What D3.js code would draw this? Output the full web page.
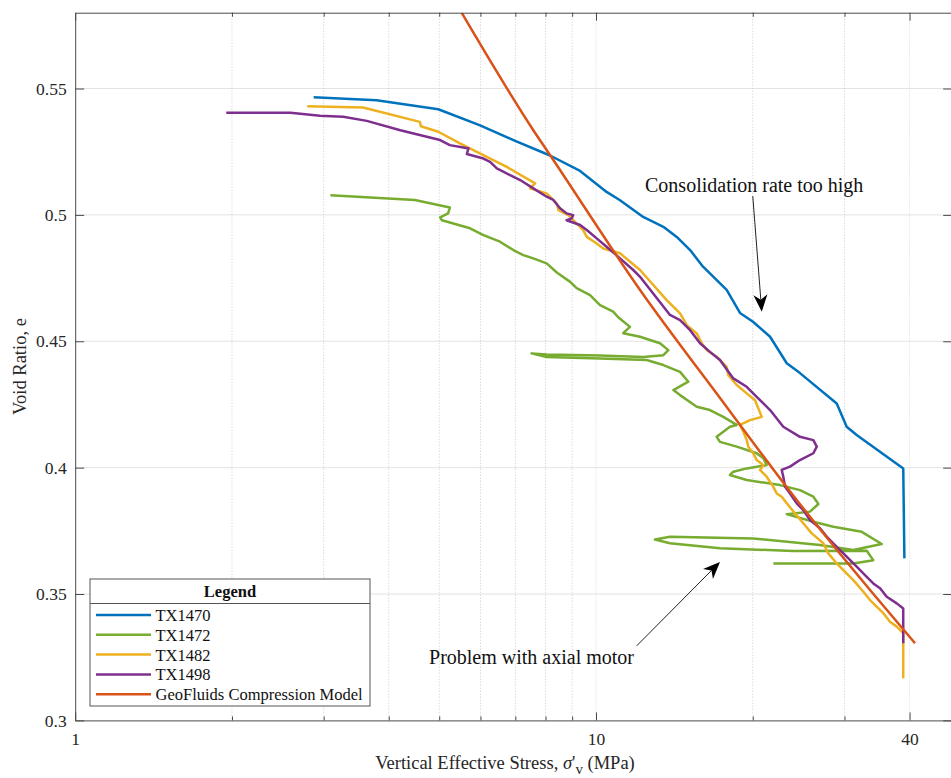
<!DOCTYPE html>
<html>
<head>
<meta charset="utf-8">
<script src="https://cdn.jsdelivr.net/npm/d3@7"></script>
<style>
  body { margin: 0; background: #fff; }
  svg { display: block; }
  text { font-family: "Liberation Serif", "Times New Roman", serif; }
</style>
</head>
<body>
<svg id="chart" width="951" height="778"></svg>
<script>
// Oedometer test data: [vertical effective stress (MPa), void ratio e]
const tx1470 = [
  [2.87,0.5465],[3.79,0.5454],[4.98,0.5418],[5.99,0.5354],[6.94,0.5296],[8.16,0.5235],
  [9.32,0.5174],[10.48,0.5091],[11.12,0.5058],[12.32,0.4992],[13.47,0.4953],[14.29,0.4913],
  [15.16,0.4861],[16.05,0.4795],[17.82,0.4703],[18.90,0.4612],[20.02,0.4577],[21.59,0.4518],
  [23.24,0.4413],[24.64,0.4374],[28.99,0.4254],[30.29,0.4162],[31.66,0.4129],[38.9,0.3997],
  [39.1,0.3641]
];

const tx1472 = [
  [3.09,0.5078],[4.49,0.5059],[5.24,0.5029],[5.20,0.5006],[5.02,0.4990],[5.06,0.4979],
  [5.73,0.4947],[6.08,0.4920],[6.54,0.4894],[6.94,0.4861],[7.25,0.4841],[7.58,0.4828],
  [8.04,0.4808],[8.41,0.4772],[8.92,0.4735],[9.18,0.4710],[9.74,0.4683],[10.18,0.4643],
  [10.79,0.4617],[11.02,0.4596],[11.62,0.4557],[11.28,0.4532],[12.15,0.4518],[13.27,0.4492],
  [13.77,0.4465],[13.47,0.4445],[12.32,0.4438],[10.18,0.4444],[8.04,0.4448],[7.52,0.4452],
  [8.04,0.4438],[10.18,0.4432],[12.51,0.4426],[13.47,0.4406],[14.50,0.4379],[15.04,0.4340],
  [14.08,0.4307],[14.50,0.4287],[15.61,0.4241],[16.55,0.4228],[17.56,0.4201],[18.63,0.4169],
  [18.08,0.4162],[17.05,0.4122],[17.30,0.4102],[18.63,0.4083],[20.35,0.4057],[20.96,0.4037],
  [21.27,0.4010],[19.47,0.3997],[18.35,0.3984],[18.08,0.3971],[19.47,0.3951],[22.56,0.3931],
  [24.64,0.3911],[26.14,0.3885],[26.73,0.3856],[25.76,0.3826],[23.24,0.3816],[26.14,0.3786],
  [28.56,0.3766],[32.38,0.3746],[35.37,0.3698],[31.20,0.3674],[26.92,0.3694],[20.04,0.3720],
  [13.87,0.3727],[12.98,0.3716],[13.87,0.3701],[17.30,0.3681],[23.92,0.3670],[33.10,0.3671],
  [34.07,0.3634],[31.20,0.3621],[21.90,0.3621]
];

const tx1482 = [
  [2.79,0.5430],[3.57,0.5425],[4.59,0.5368],[4.61,0.5351],[4.98,0.5329],[5.48,0.5283],
  [6.17,0.5230],[6.74,0.5190],[7.64,0.5125],[7.47,0.5105],[8.04,0.5085],[8.41,0.5045],
  [8.47,0.5019],[8.85,0.4999],[9.45,0.4940],[9.60,0.4913],[10.03,0.4887],[10.33,0.4867],
  [11.12,0.4848],[12.15,0.4782],[13.67,0.4663],[14.50,0.4610],[14.94,0.4564],[15.61,0.4531],
  [15.96,0.4492],[16.32,0.4465],[17.05,0.4439],[17.82,0.4399],[17.95,0.4366],[18.63,0.4327],
  [19.47,0.4294],[20.20,0.4267],[20.81,0.4201],[19.76,0.4188],[18.90,0.4169],[19.18,0.4142],
  [19.47,0.4109],[19.61,0.4083],[20.04,0.4057],[20.35,0.4030],[20.96,0.4010],[20.65,0.3991],
  [21.27,0.3964],[21.90,0.3924],[22.23,0.3898],[22.73,0.3885],[23.24,0.3859],[24.11,0.3819],
  [25.00,0.3780],[25.96,0.3740],[27.32,0.3701],[27.93,0.3661],[28.99,0.3621],[29.85,0.3595],
  [31.20,0.3555],[32.61,0.3509],[33.59,0.3476],[34.59,0.3450],[35.62,0.3424],[36.68,0.3390],
  [37.80,0.3371],[38.9,0.3345],[38.9,0.3167]
];

const tx1498 = [
  [1.95,0.5404],[2.59,0.5404],[2.95,0.5392],[3.27,0.5388],[3.63,0.5372],[4.21,0.5335],
  [5.02,0.5296],[5.24,0.5276],[5.56,0.5267],[5.69,0.5263],[5.65,0.5241],[6.08,0.5223],
  [6.26,0.5210],[6.45,0.5184],[6.84,0.5157],[7.15,0.5138],[7.58,0.5105],[8.04,0.5072],
  [8.28,0.5059],[8.53,0.5026],[8.78,0.5006],[9.04,0.4999],[8.98,0.4986],[8.78,0.4979],
  [9.32,0.4960],[9.60,0.4940],[10.03,0.4907],[10.48,0.4874],[11.12,0.4828],[11.79,0.4782],
  [12.15,0.4755],[13.17,0.4663],[13.87,0.4604],[14.50,0.4584],[15.16,0.4544],[15.84,0.4492],
  [16.55,0.4458],[17.30,0.4426],[18.35,0.4353],[19.47,0.4320],[20.35,0.4280],[21.59,0.4228],
  [22.89,0.4162],[24.64,0.4122],[26.14,0.4109],[26.54,0.4083],[26.14,0.4057],[24.64,0.4030],
  [23.58,0.4004],[22.73,0.3991],[22.89,0.3964],[23.07,0.3924],[23.58,0.3898],[24.29,0.3859],
  [25.00,0.3832],[25.76,0.3793],[26.92,0.3760],[27.73,0.3727],[28.99,0.3687],[30.29,0.3648],
  [31.66,0.3608],[33.10,0.3568],[34.07,0.3542],[35.11,0.3523],[36.16,0.3489],[37.80,0.3463],
  [38.9,0.3443],[38.9,0.3305]
];

const geoFluidsModel = [
  [5.52,0.5800],[7.58,0.5335],[8.16,0.5237],[12.15,0.4703],[17.43,0.4267],
  [24.29,0.3872],[33.59,0.3516],[40.98,0.3305]
];

const seriesNames = ["TX1470", "TX1472", "TX1482", "TX1498", "GeoFluids Compression Model"];
const seriesColors = ["#0072BD", "#77AC30", "#EDB120", "#7E2F8E", "#D95319"];
const seriesData = [tx1470, tx1472, tx1482, tx1498, geoFluidsModel];

const xMajorTicks = [1, 10, 40];
const xMinorTicks = [2, 3, 4, 5, 6, 7, 8, 9, 20, 30];
const yTicks = [0.3, 0.35, 0.4, 0.45, 0.5, 0.55];
const xDomain = [1, 48.3];
const yDomain = [0.3, 0.58];

// annotation anchors in data units
const notes = [
  { text: "Consolidation rate too high", at: [12.42, 0.5090], tail: [20.0, 0.5074], tip: [20.81, 0.4617] },
  { text: "Problem with axial motor", at: [4.78, 0.3223], tail: [11.97, 0.3295], tip: [17.30, 0.3627] }
];

// ---- layout ----
const svg = d3.select("#chart");
const plotLeft = 75.2, plotTop = 12.7, plotBottom = 720.4, pxPerDecade = 520.8;
const plotRight = plotLeft + pxPerDecade * Math.log10(xDomain[1]);

const x = d3.scaleLog().domain(xDomain).range([plotLeft, plotRight]);
const y = d3.scaleLinear().domain(yDomain).range([plotBottom, plotTop]);

svg.append("defs").append("clipPath").attr("id", "plotClip")
  .append("rect").attr("x", plotLeft).attr("y", plotTop)
  .attr("width", plotRight - plotLeft).attr("height", plotBottom - plotTop);

// grid
const grid = svg.append("g");
grid.selectAll(".hgrid").data(yTicks.filter(d => d > yDomain[0]))
  .join("line")
  .attr("x1", plotLeft).attr("x2", plotRight)
  .attr("y1", d => y(d)).attr("y2", d => y(d))
  .attr("stroke", "#e3e3e3").attr("stroke-width", 1);
grid.selectAll(".vminor").data(xMinorTicks)
  .join("line")
  .attr("x1", d => x(d)).attr("x2", d => x(d))
  .attr("y1", plotTop).attr("y2", plotBottom)
  .attr("stroke", "#c9c9c9").attr("stroke-width", 1)
  .attr("stroke-dasharray", "1,2");
grid.selectAll(".vmajor").data(xMajorTicks.filter(d => d > xDomain[0]))
  .join("line")
  .attr("x1", d => x(d)).attr("x2", d => x(d))
  .attr("y1", plotTop).attr("y2", plotBottom)
  .attr("stroke", "#dcdcdc").attr("stroke-width", 1)
  .attr("stroke-dasharray", "1,1.5");

// series
const line = d3.line().x(d => x(d[0])).y(d => y(d[1]));
const modelLine = d3.line().x(d => x(d[0])).y(d => y(d[1])).curve(d3.curveMonotoneX);
const plot = svg.append("g").attr("clip-path", "url(#plotClip)");
seriesData.forEach((data, i) => {
  plot.append("path")
    .datum(data)
    .attr("d", i === 4 ? modelLine : line)
    .attr("fill", "none")
    .attr("stroke", seriesColors[i])
    .attr("stroke-width", 2.5)
    .attr("stroke-linejoin", "round");
});

// axes
const axisColor = "#4a4a4a";
function styleAxis(g, showDomain) {
  g.selectAll("line").attr("stroke", axisColor);
  g.select(".domain").attr("stroke", showDomain ? axisColor : "none");
  g.selectAll("text").attr("fill", "#262626").style("font-size", "17.5px")
    .style("font-family", '"Liberation Serif", "Times New Roman", serif');
}
const fmtY = d => String(+d.toFixed(2));

svg.append("g").attr("transform", `translate(0,${plotBottom})`)
  .call(d3.axisBottom(x).tickValues(xMajorTicks).tickSize(-8).tickPadding(12).tickFormat(d3.format("d")).tickSizeOuter(0))
  .call(g => styleAxis(g, true));
svg.append("g").attr("transform", `translate(0,${plotBottom})`)
  .call(d3.axisBottom(x).tickValues(xMinorTicks).tickSize(-4).tickFormat(""))
  .call(g => styleAxis(g, false));
svg.append("g").attr("transform", `translate(0,${plotTop})`)
  .call(d3.axisTop(x).tickValues(xMajorTicks).tickSize(-8).tickFormat("").tickSizeOuter(0))
  .call(g => styleAxis(g, true));
svg.append("g").attr("transform", `translate(0,${plotTop})`)
  .call(d3.axisTop(x).tickValues(xMinorTicks).tickSize(-4).tickFormat(""))
  .call(g => styleAxis(g, false));
svg.append("g").attr("transform", `translate(${plotLeft},0)`)
  .call(d3.axisLeft(y).tickValues(yTicks).tickSize(-9).tickPadding(8.5).tickFormat(fmtY).tickSizeOuter(0))
  .call(g => styleAxis(g, true));
svg.append("g").attr("transform", `translate(${plotRight},0)`)
  .call(d3.axisRight(y).tickValues(yTicks).tickSize(-9).tickFormat("").tickSizeOuter(0))
  .call(g => styleAxis(g, true));

// axis titles
const xTitle = svg.append("text")
  .attr("x", 505).attr("y", 769)
  .attr("text-anchor", "middle")
  .attr("fill", "#262626")
  .style("font-size", "18.5px");
xTitle.append("tspan").text("Vertical Effective Stress, ");
xTitle.append("tspan").style("font-style", "italic").text("σ");
xTitle.append("tspan").text("'");
xTitle.append("tspan").attr("dy", 5).style("font-size", "15px").text("v");
xTitle.append("tspan").attr("dy", -5).text(" (MPa)");

svg.append("text")
  .attr("transform", `translate(26,${(plotTop + plotBottom) / 2}) rotate(-90)`)
  .attr("text-anchor", "middle")
  .attr("fill", "#262626")
  .style("font-size", "18.5px")
  .text("Void Ratio, e");

// annotations with arrows
notes.forEach(n => {
  svg.append("text")
    .attr("x", x(n.at[0])).attr("y", y(n.at[1]))
    .attr("fill", "#111")
    .style("font-size", "20px")
    .text(n.text);
  const x1 = x(n.tail[0]), y1 = y(n.tail[1]);
  const x2 = x(n.tip[0]), y2 = y(n.tip[1]);
  const len = Math.hypot(x2 - x1, y2 - y1);
  const ux = (x2 - x1) / len, uy = (y2 - y1) / len;
  const vx = -uy, vy = ux;
  const L = 17, w = 7, notch = 5;
  svg.append("line")
    .attr("x1", x1).attr("y1", y1)
    .attr("x2", x2 - (L - notch) * ux).attr("y2", y2 - (L - notch) * uy)
    .attr("stroke", "#222").attr("stroke-width", 1);
  const head = [
    [x2, y2],
    [x2 - L * ux + w * vx, y2 - L * uy + w * vy],
    [x2 - (L - notch) * ux, y2 - (L - notch) * uy],
    [x2 - L * ux - w * vx, y2 - L * uy - w * vy]
  ];
  svg.append("path")
    .attr("d", "M" + head.map(p => p.join(",")).join("L") + "Z")
    .attr("fill", "#000");
});

// legend
const lg = svg.append("g");
const lgX = 90, lgY = 579, lgW = 280, lgH = 127, lgTitleH = 24.5;
lg.append("rect").attr("x", lgX).attr("y", lgY).attr("width", lgW).attr("height", lgH)
  .attr("fill", "#fff").attr("stroke", "#555").attr("stroke-width", 1);
lg.append("line").attr("x1", lgX).attr("x2", lgX + lgW)
  .attr("y1", lgY + lgTitleH).attr("y2", lgY + lgTitleH)
  .attr("stroke", "#555").attr("stroke-width", 1);
lg.append("text").attr("x", lgX + lgW / 2).attr("y", lgY + 18)
  .attr("text-anchor", "middle").attr("fill", "#111")
  .style("font-size", "16.5px").style("font-weight", "bold")
  .text("Legend");
seriesNames.forEach((name, i) => {
  const cy = 615 + i * 19.8;
  lg.append("line").attr("x1", 96).attr("x2", 151).attr("y1", cy).attr("y2", cy)
    .attr("stroke", seriesColors[i]).attr("stroke-width", 2.5);
  lg.append("text").attr("x", 155.5).attr("y", cy + 6)
    .attr("fill", "#111").style("font-size", "16.5px")
    .text(name);
});
</script>
</body>
</html>
